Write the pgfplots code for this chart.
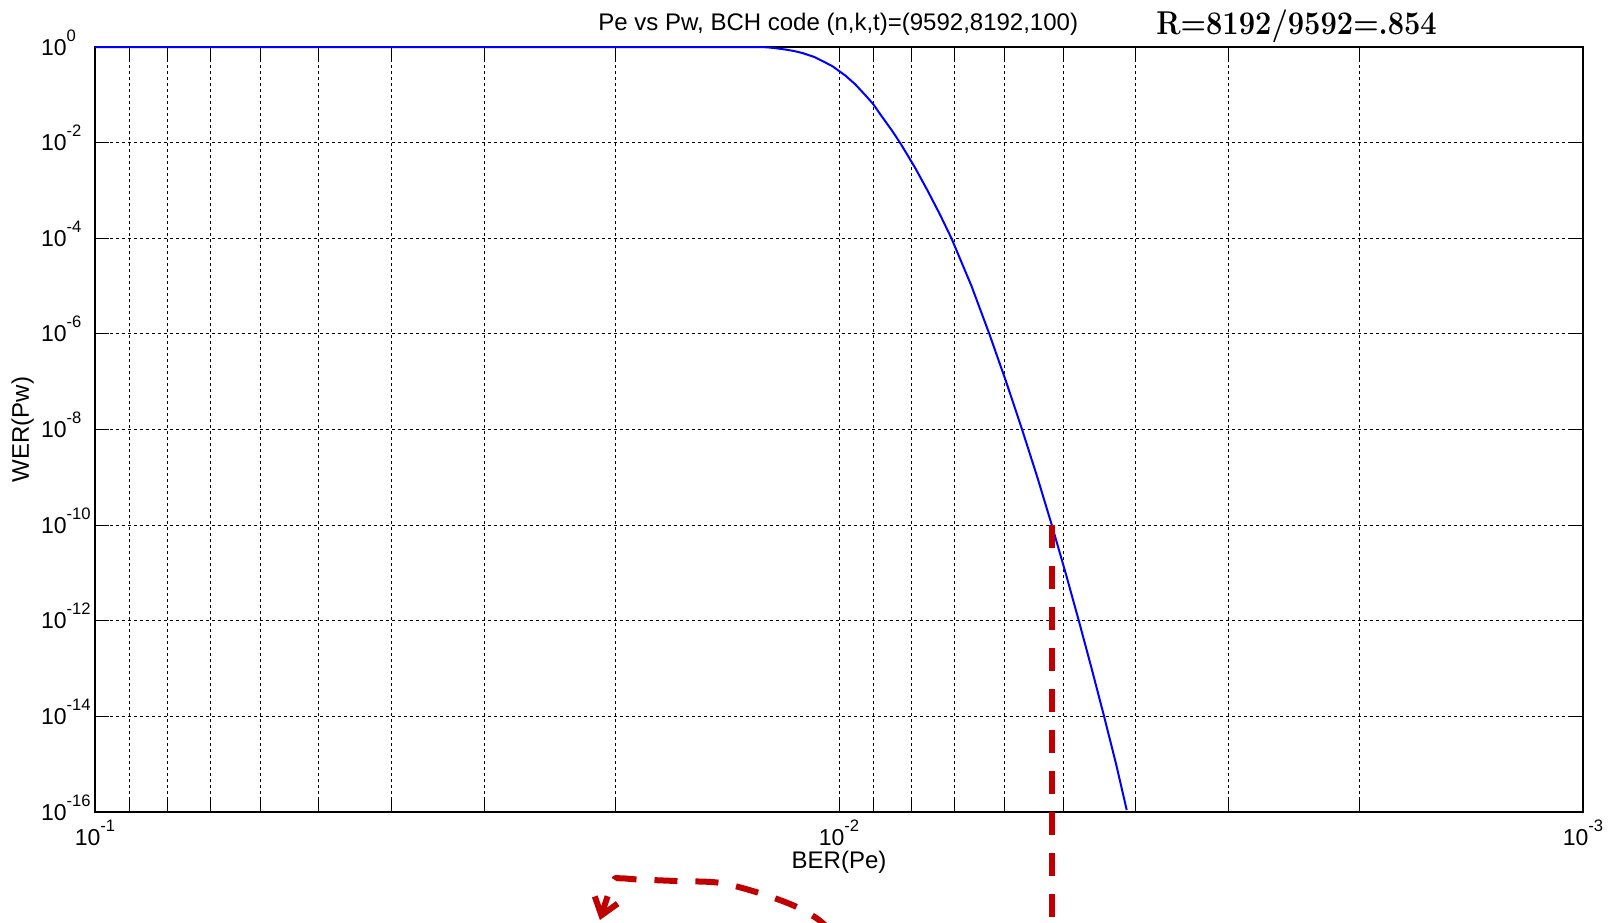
\documentclass[border=0pt]{standalone}
\usepackage{fontspec}
\setsansfont{Liberation Sans}
\usepackage{graphicx}
\usepackage{pgfplots}
\pgfplotsset{compat=1.18}
\usetikzlibrary{arrows.meta}
\definecolor{dred}{RGB}{192,0,0}
\newcommand{\tl}[1]{10\raisebox{7pt}{\fontsize{8.3}{9}\selectfont #1}}
\newcommand{\tly}[1]{10\rlap{\raisebox{7pt}{\fontsize{8.3}{9}\selectfont #1}}}
\begin{document}
\begin{tikzpicture}
\begin{axis}[
  at={(0,0)}, anchor=south west,
  scale only axis, width=744pt, height=382.5pt,
  xmode=log, ymode=log, x dir=reverse,
  xmin=0.001, xmax=0.1, ymin=1e-16, ymax=1,
  xtick={0.001,0.01,0.1},
  xticklabels={\tl{-3},\tl{-2},\tl{-1}},
  minor xtick={0.002,0.003,0.004,0.005,0.006,0.007,0.008,0.009,0.02,0.03,0.04,0.05,0.06,0.07,0.08,0.09},
  ytick={1e-16,1e-14,1e-12,1e-10,1e-8,1e-6,1e-4,1e-2,1},
  yticklabels={\tly{-16},\tly{-14},\tly{-12},\tly{-10},\tly{-8},\tly{-6},\tly{-4},\tly{-2},\tly{0}},
  xmajorgrids=true, xminorgrids=true, ymajorgrids=true, yminorgrids=false,
  major grid style={black, line width=0.5pt, dash pattern=on 1.5pt off 1.5pt},
  minor grid style={black, line width=0.5pt, dash pattern=on 1.5pt off 1.5pt},
  tick align=inside, major tick length=7pt, minor tick length=7pt,
  tick style={black, line width=0.5pt},
  axis line style={black, line width=0.6pt},
  ticklabel style={font=\sffamily\fontsize{11.5}{13}\selectfont},
  xticklabel style={anchor=base, inner sep=0pt, yshift=-16.5pt},
  yticklabel style={anchor=base east, inner sep=0pt, xshift=-14pt, yshift=-4pt},
  label style={font=\sffamily\fontsize{12}{14}\selectfont},
  xlabel={BER(Pe)},
  ylabel={WER(Pw)},
  xlabel style={at={(axis description cs:0.5,-0.0732)}, anchor=base},
  ylabel style={at={(axis description cs:-0.04866,0.5)}, anchor=center},
  clip=false,
]
\addplot[blue, line width=1pt] coordinates {
(0.1,1) (0.0128,1) (0.0125,0.985) (0.0122,0.95) (0.0118,0.885)
(0.0115,0.826) (0.0112,0.749) (0.0108,0.62) (0.0105,0.50) (0.0102,0.394)
(0.0098,0.251) (0.0095,0.163) (0.0092,0.095) (0.0090,0.0645) (0.0088,0.039)
(0.0085,0.0184) (0.00826,9.4e-3) (0.00791,3.05e-3) (0.007603,9.9e-4) (0.007319,3.16e-4)
(0.007063,1e-4) (0.006637,1e-5) (0.006281,1e-6) (0.005963,1e-7) (0.005675,1e-8)
(0.005413,1e-9) (0.005176,1e-10) (0.004960,1e-11) (0.004761,1e-12)
(0.004576,1e-13) (0.004403,1e-14) (0.004242,1e-15) (0.004105,1.1e-16)
};
\addplot[dred, line width=3pt, dash pattern=on 11.5pt off 9pt] coordinates {
(0.00517,1e-10) (0.00517,1e-19)
};
\addplot[dred, line width=3pt, dash pattern=on 11.5pt off 9pt, smooth,
  -{Straight Barb[length=8pt,width=12pt]}] coordinates {
(0.01028,3.4e-19) (0.01072,6.0e-19) (0.01153,1.12e-18) (0.01277,2.0e-18)
(0.01445,3.3e-18) (0.01652,3.6e-18) (0.01871,3.9e-18) (0.0197,4.1e-18)
(0.02013,3.5e-18) (0.02096,5.5e-19)
};
\node[anchor=base, inner sep=0pt, font=\sffamily\fontsize{12}{14}\selectfont]
  at (axis description cs:0.4995,1.0222) {Pe vs Pw, BCH code (n,k,t)=(9592,8192,100)};
\node[anchor=base, inner sep=0pt]
  at (axis description cs:0.8075,1.0157) {\scalebox{0.88}[1]{\fontsize{16.5}{18}\selectfont\bfseries R=8192/9592=.854}};
\end{axis}
\pgfresetboundingbox
\path (-47.5pt,-55pt) rectangle (758pt,406pt);
\end{tikzpicture}
\end{document}
